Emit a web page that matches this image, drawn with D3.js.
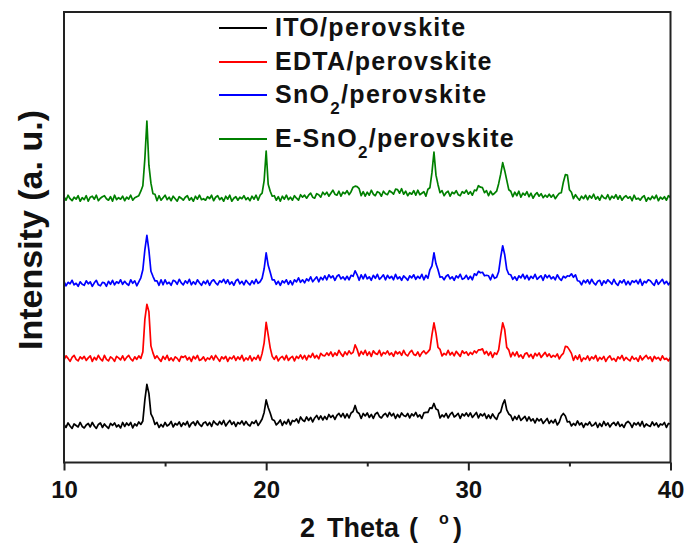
<!DOCTYPE html>
<html>
<head>
<meta charset="utf-8">
<script src="https://cdn.jsdelivr.net/npm/d3@7"></script>
<style>
  html, body { margin: 0; padding: 0; background: #fff; }
  svg { display: block; }
  text { font-family: "Liberation Sans", Arial, Helvetica, sans-serif; font-weight: bold; fill: #111; }
</style>
</head>
<body>
<svg id="chart" width="686" height="548"></svg>
<script>
// XRD scans, 2θ from 10° to 40° in 0.1° steps (raw counts, a.u.)
const thetaStart = 10;
const thetaStep = 0.1;

const ito = [
  76,70,79,73,68,77,74,71,80,72, 69,75,78,71,80,73,68,76,79,70, 77,72,68,78,74,79,71,75,69,80,
  72,79,74,80,69,77,73,81,76,83, 125,156,138,97,89,76,80,70,76,71, 80,73,76,82,71,78,75,81,72,79,
  75,82,71,78,81,74,83,76,72,79, 81,74,80,72,83,78,75,82,76,84, 73,79,84,76,81,72,80,77,83,75,
  82,76,73,81,78,84,74,80,87,100, 125,110,99,86,84,75,79,85,74,82, 77,86,75,84,82,87,79,91,85,82,
  91,84,90,81,89,94,86,93,85,92, 86,96,90,94,86,94,98,91,98,89, 97,89,99,102,114,101,98,88,98,93,
  99,90,96,88,97,100,92,89,95,98, 91,100,93,98,88,96,90,99,94,92, 98,89,97,93,100,91,95,88,99,100,
  100,109,108,118,107,105,89,95,91,98, 89,96,100,91,94,98,88,97,93,99, 92,99,90,95,100,89,97,93,98,88,
  95,88,97,90,86,97,101,116,125,105, 97,94,84,92,86,94,84,88,92,83, 91,83,87,79,88,83,87,78,83,88,
  78,84,79,86,75,81,93,98,93,81, 82,73,78,74,83,75,79,70,78,75, 81,73,75,80,70,78,72,82,74,79,
  71,77,80,74,81,72,76,70,79,82, 78,70,79,75,80,73,82,71,77,74, 72,81,74,79,71,77,75,80,70,78,
  77
];

const edta = [
  75,83,78,72,80,84,76,73,81,77, 82,74,79,83,72,80,75,84,77,73, 84,76,73,81,78,72,82,79,75,83,
  74,80,84,77,73,81,76,83,78,91, 156,186,171,103,89,78,83,77,72,82, 76,84,74,79,73,81,78,72,82,80,
  83,75,80,72,82,77,84,74,76,81, 73,79,76,83,75,84,78,72,81,77, 82,72,80,77,83,74,81,76,84,73,
  79,75,83,73,80,76,84,74,88,109, 150,125,99,82,76,83,73,79,82,75, 84,74,79,82,73,82,78,85,77,84,
  75,84,80,88,79,84,77,88,84,83, 89,84,91,82,89,84,94,87,82,91, 85,93,87,90,105,96,83,92,86,94,
  84,91,82,93,88,86,94,83,90,87, 93,85,89,82,92,87,91,84,94,86, 83,90,94,86,84,91,82,89,93,87,
  91,96,125,149,128,100,96,83,88,85, 94,85,90,83,92,87,82,93,88,91, 84,90,86,93,89,95,95,97,87,92,
  84,91,80,89,86,95,124,149,135,100, 95,81,90,83,91,81,85,78,87,89, 81,86,78,88,83,89,80,85,90,82,
  87,80,84,81,87,77,84,88,102,101, 95,88,74,83,76,85,72,79,76,83, 74,81,77,84,73,80,76,82,72,79,
  83,75,78,72,81,77,84,74,80,76, 73,82,76,79,72,83,75,80,84,77, 81,72,82,77,80,74,83,76,78,73,
  80
];

const sno2 = [
  82,73,80,77,84,75,78,72,81,76, 74,83,77,81,72,79,84,75,73,80, 79,72,82,76,84,75,81,78,85,76,
  82,77,74,85,78,83,73,81,89,105, 145,174,144,102,92,83,83,74,85,75, 85,77,80,74,84,82,76,86,79,75,
  83,78,86,75,81,76,85,79,74,82, 77,84,74,82,85,79,75,83,80,86, 78,85,76,81,74,83,86,77,82,75,
  84,79,75,83,77,86,78,81,88,107, 139,114,100,85,85,76,82,74,83,79, 85,76,83,75,85,81,89,80,85,79,
  87,83,91,81,86,91,81,90,85,93, 85,95,89,93,84,92,95,87,91,85, 92,85,94,92,103,95,84,95,87,96,
  87,91,84,94,88,96,86,90,95,85, 94,88,92,85,96,87,91,84,93,89, 84,93,89,95,86,92,88,96,85,94,
  88,105,113,139,117,105,90,91,85,92, 95,87,91,84,93,89,96,86,88,94, 86,92,85,97,94,102,99,100,93,94,
  93,85,96,88,90,101,130,153,135,106, 96,95,86,91,84,93,89,96,87,94, 85,92,88,96,86,90,93,84,95,89,
  94,87,91,85,95,88,84,92,89,93, 92,97,90,95,83,82,75,84,79,85, 77,86,79,75,82,84,74,83,78,85,
  81,76,86,78,74,83,79,85,75,82, 75,83,80,84,77,86,74,82,79,85, 83,78,74,85,76,81,86,77,82,75,
  81
];

const esno2 = [
  91,84,94,87,83,90,86,93,82,89, 85,93,82,90,92,86,94,83,88,91, 93,87,84,91,82,94,85,89,86,92,
  83,90,86,94,84,89,91,93,102,113, 167,242,154,118,97,96,83,93,84,89, 94,85,90,83,92,87,82,91,88,84,
  90,93,84,89,82,92,86,94,85,87, 84,91,87,94,83,90,93,85,89,82, 92,86,94,82,88,91,84,90,87,93,
  85,89,83,92,86,94,84,94,98,123, 182,116,102,92,93,84,91,82,92,86, 94,85,90,84,93,88,84,95,90,94,
  88,94,98,90,88,97,95,90,100,95, 100,92,98,104,96,94,102,92,100,97, 103,95,101,110,112,111,107,93,101,92,
  100,94,104,96,93,101,99,92,102,97, 95,103,100,96,106,105,98,107,96,102, 93,99,96,103,94,104,95,98,101,92,
  106,109,139,180,134,115,99,103,93,99, 102,92,100,97,103,95,93,101,98,104, 96,101,94,104,103,113,110,109,99,103,
  93,102,95,98,102,117,136,159,143,124, 105,102,91,100,93,102,90,98,94,101, 91,98,88,95,99,92,97,89,94,90,
  96,90,95,87,93,98,99,120,135,134, 105,100,87,95,89,84,92,87,94,85, 93,88,96,86,91,84,94,89,87,95,
  85,92,88,95,86,93,84,90,93,88, 91,83,94,86,88,84,90,93,82,89, 85,92,87,94,83,90,86,91,84,93,
  89
];

// vertical offsets used to stack the patterns (a.u.)
const offsets = [0, 130, 280, 440];
const seriesNames = ["ITO/perovskite", "EDTA/perovskite", "SnO2/perovskite", "E-SnO2/perovskite"];
const seriesColors = ["#000000", "#ff0000", "#0000ff", "#008000"];
const xTicks = [10, 20, 30, 40];
const xMinorTicks = [15, 25, 35];

const svg = d3.select("#chart");
const plot = { left: 64, right: 670.5, top: 12, bottom: 462.5 };

const x = d3.scaleLinear().domain([10, 40]).range([plot.left, plot.right]);
const y = d3.scaleLinear().domain([0, 900]).range([plot.bottom, plot.top]);

svg.append("defs").append("clipPath").attr("id", "plotClip")
  .append("rect")
  .attr("x", plot.left).attr("y", plot.top)
  .attr("width", plot.right - plot.left).attr("height", plot.bottom - plot.top);

const allSeries = [ito, edta, sno2, esno2];

const line = d3.line()
  .x(d => x(d.t))
  .y(d => y(d.v));

const traces = svg.append("g").attr("clip-path", "url(#plotClip)");
allSeries.forEach((vals, k) => {
  const pts = vals.map((v, i) => ({ t: thetaStart + i * thetaStep, v: v + offsets[k] }));
  traces.append("path")
    .datum(pts)
    .attr("fill", "none")
    .attr("stroke", seriesColors[k])
    .attr("stroke-width", 1.7)
    .attr("stroke-linejoin", "round")
    .attr("d", line);
});

// frame
svg.append("rect")
  .attr("x", plot.left).attr("y", plot.top)
  .attr("width", plot.right - plot.left).attr("height", plot.bottom - plot.top)
  .attr("fill", "none").attr("stroke", "#222").attr("stroke-width", 2);

// bottom axis: major ticks with labels, minor ticks without
const axisMajor = svg.append("g")
  .attr("transform", `translate(0,${plot.bottom})`)
  .call(d3.axisBottom(x).tickValues(xTicks).tickSize(8).tickPadding(10).tickFormat(d3.format("d")));
axisMajor.select(".domain").remove();
axisMajor.selectAll(".tick line").attr("stroke", "#222").attr("stroke-width", 2);
axisMajor.selectAll(".tick text")
  .style("font-size", "24px").style("font-weight", "bold")
  .style("font-family", "'Liberation Sans', Arial, sans-serif").attr("fill", "#111");

const axisMinor = svg.append("g")
  .attr("transform", `translate(0,${plot.bottom})`)
  .call(d3.axisBottom(x).tickValues(xMinorTicks).tickSize(4).tickFormat(""));
axisMinor.select(".domain").remove();
axisMinor.selectAll(".tick line").attr("stroke", "#222").attr("stroke-width", 2);

// x-axis title: 2 Theta (°)
const xTitle = svg.append("text").attr("y", 537).style("font-size", "27px");
xTitle.append("tspan").attr("x", 300).text("2");
xTitle.append("tspan").attr("x", 327).text("Theta");
xTitle.append("tspan").attr("x", 409).text("(");
xTitle.append("tspan").attr("x", 439).attr("dy", -13).style("font-size", "16px").text("o");
xTitle.append("tspan").attr("x", 453).attr("dy", 13).text(")");

// y-axis title
svg.append("text")
  .attr("transform", "translate(42,230) rotate(-90)")
  .attr("text-anchor", "middle")
  .style("font-size", "34px")
  .text("Intensity (a. u.)");

// legend
const legendRows = [36, 70, 103, 147];
seriesNames.forEach((name, k) => {
  const by = legendRows[k];
  svg.append("line")
    .attr("x1", 219).attr("x2", 267)
    .attr("y1", by - 8).attr("y2", by - 8)
    .attr("stroke", seriesColors[k]).attr("stroke-width", 2);
  const t = svg.append("text")
    .attr("x", 275).attr("y", by)
    .style("font-size", "25px").style("letter-spacing", "1.3px");
  const parts = name.split("O2");
  if (parts.length === 2) {
    t.append("tspan").text(parts[0] + "O");
    t.append("tspan").attr("dy", 11).style("font-size", "17px").text("2");
    t.append("tspan").attr("dy", -11).text(parts[1]);
  } else {
    t.text(name);
  }
});
</script>
</body>
</html>
